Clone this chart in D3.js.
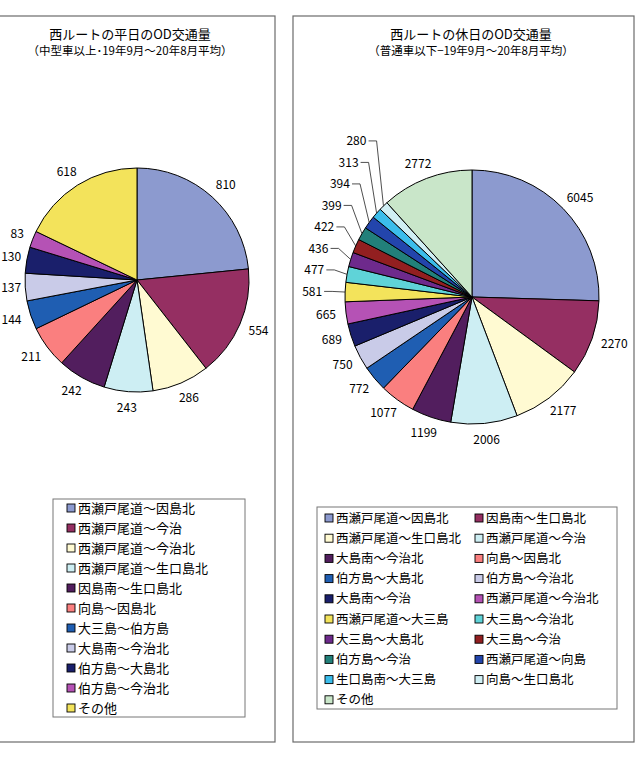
<!DOCTYPE html>
<html>
<head>
<meta charset="utf-8">
<script src="https://cdn.jsdelivr.net/npm/d3@7"></script>
<style>
  body { margin: 0; background: #fff; }
  text { font-family: "Noto Sans CJK JP", "Noto Sans", sans-serif; fill: #000; }
</style>
</head>
<body>
<svg id="chart" width="636" height="764"></svg>
<script>
// 平日（中型車以上）
var weekdayRoutes = ["西瀬戸尾道～因島北", "西瀬戸尾道～今治", "西瀬戸尾道～今治北", "西瀬戸尾道～生口島北",
  "因島南～生口島北", "向島～因島北", "大三島～伯方島", "大島南～今治北", "伯方島～大島北", "伯方島～今治北", "その他"];
var weekdayValues = [810, 554, 286, 243, 242, 211, 144, 137, 130, 83, 618];

// 休日（普通車以下）
var holidayRoutes = ["西瀬戸尾道～因島北", "因島南～生口島北", "西瀬戸尾道～生口島北", "西瀬戸尾道～今治",
  "大島南～今治北", "向島～因島北", "伯方島～大島北", "伯方島～今治北", "大島南～今治", "西瀬戸尾道～今治北",
  "西瀬戸尾道～大三島", "大三島～今治北", "大三島～大島北", "大三島～今治", "伯方島～今治", "西瀬戸尾道～向島",
  "生口島南～大三島", "向島～生口島北", "その他"];
var holidayValues = [6045, 2270, 2177, 2006, 1199, 1077, 772, 750, 689, 665, 581, 477, 436, 422, 399, 394, 313, 280, 2772];

var weekdayTitle = ["西ルートの平日のOD交通量", "（中型車以上･19年9月～20年8月平均）"];
var holidayTitle = ["西ルートの休日のOD交通量", "（普通車以下−19年9月～20年8月平均）"];

// series colours, by slice order
var palette = ["#8C9ACF", "#952F62", "#FFFAD2", "#CDEEF3", "#521E5E", "#FA7F7F", "#1F5EB2", "#C9CBE8",
  "#1A1F6B", "#B552B5", "#F3E35B", "#5FD3D8", "#6E2A8C", "#921F20", "#22807A", "#2345AC",
  "#3BBDEB", "#D0EFF4", "#C9E6C9"];
var holidayPalette = palette.slice();
var weekdayPalette = palette.slice(0, 11);

var svg = d3.select("#chart");

function drawPanel(p) {
  var g = svg.append("g");

  // panel frame
  g.append("rect")
    .attr("x", p.box[0]).attr("y", p.box[1])
    .attr("width", p.box[2]).attr("height", p.box[3])
    .attr("fill", "#fff").attr("stroke", "#6b6b6b").attr("stroke-width", 1.2);

  g.append("text")
    .attr("x", p.titleX).attr("y", 39)
    .attr("text-anchor", "middle")
    .style("font-size", "13px")
    .text(p.title[0]);
  g.append("text")
    .attr("x", p.titleX).attr("y", 55)
    .attr("text-anchor", "middle")
    .style("font-size", "11.5px")
    .text(p.title[1]);

  var pie = d3.pie().sort(null).value(function(d) { return d; });
  var arcs = pie(p.values);
  var arc = d3.arc().innerRadius(0).outerRadius(p.r);

  var gp = g.append("g").attr("transform", "translate(" + p.cx + "," + p.cy + ")");

  gp.selectAll("path.slice")
    .data(arcs)
    .enter().append("path")
    .attr("class", "slice")
    .attr("d", arc)
    .attr("fill", function(d, i) { return p.colors[i]; })
    .attr("stroke", "#000")
    .attr("stroke-width", 1);

  // data labels, Excel style: box just outside the rim
  var lbl = gp.selectAll("text.lbl")
    .data(arcs)
    .enter().append("text")
    .attr("class", "lbl")
    .attr("text-anchor", "middle")
    .attr("dy", "0.35em")
    .style("font-size", "12px")
    .text(function(d) { return d.data; });

  var gap = 10, h = 12, minSpace = 21.5, shift = 13;
  var info = [];
  lbl.each(function(d, i) {
    var w = this.getBBox().width;
    var a = (d.startAngle + d.endAngle) / 2;
    var sx = Math.sin(a), sy = -Math.cos(a);
    var x = (p.r + gap) * sx + sx * w / 2;
    var y = (p.r + gap) * sy + sy * h / 2;
    info.push({ i: i, a: a, w: w, x: x, y: y, nx: x, ny: y, lead: false });
  });

  // push crowded labels apart on each side
  [-1, 1].forEach(function(side) {
    var list = info.filter(function(o) { return o.nx * side > 0; })
      .sort(function(a, b) { return b.ny - a.ny; });
    var chains = [], cur = [];
    list.forEach(function(o, k) {
      if (k > 0) {
        var prev = list[k - 1];
        var hit = (prev.ny - o.ny) < minSpace && Math.abs(prev.nx - o.nx) < (prev.w + o.w) / 2 + 4;
        if (!hit) { chains.push(cur); cur = []; }
      }
      cur.push(o);
    });
    if (cur.length) chains.push(cur);
    chains.forEach(function(c) {
      if (c.length < 2) return;
      c.forEach(function(o, k) {
        if (k > 0) o.y = Math.min(o.ny, c[k - 1].y - minSpace);
        o.x = o.nx + side * shift;
        o.lead = true;
      });
    });
  });

  // keep labels inside the visible page
  info.forEach(function(o) {
    var minX = -p.cx + o.w / 2 + 1;
    if (o.x < minX) o.x = minX;
  });

  lbl.attr("x", function(d, i) { return info[i].x; })
     .attr("y", function(d, i) { return info[i].y; });

  var leaders = info.filter(function(o) { return o.lead; });
  gp.selectAll("polyline.lead")
    .data(leaders)
    .enter().append("polyline")
    .attr("class", "lead")
    .attr("fill", "none")
    .attr("stroke", "#222")
    .attr("stroke-width", 0.8)
    .attr("points", function(o) {
      var s = o.x < 0 ? 1 : -1;
      var x0 = o.x + s * (o.w / 2 + 2);
      var x1 = x0 + s * 8;
      var ex = p.r * Math.sin(o.a), ey = -p.r * Math.cos(o.a);
      return [[x0, o.y], [x1, o.y], [ex, ey]].map(function(pt) { return pt.join(","); }).join(" ");
    });

  // legend
  var L = p.legend;
  g.append("rect")
    .attr("x", L.x).attr("y", L.y)
    .attr("width", L.w).attr("height", L.h)
    .attr("fill", "#fff").attr("stroke", "#777").attr("stroke-width", 1);

  var item = g.selectAll("g.leg")
    .data(p.routes)
    .enter().append("g")
    .attr("class", "leg")
    .attr("transform", function(d, i) {
      var col = i % L.cols, row = Math.floor(i / L.cols);
      return "translate(" + (L.x0 + col * L.colW) + "," + (L.y0 + row * L.rowH) + ")";
    });

  item.append("rect")
    .attr("x", 0).attr("y", -4)
    .attr("width", 8).attr("height", 8)
    .attr("fill", function(d, i) { return p.colors[i]; })
    .attr("stroke", "#000").attr("stroke-width", 0.9);

  item.append("text")
    .attr("x", 11)
    .attr("dy", "0.36em")
    .style("font-size", L.font)
    .text(function(d) { return d; });
}

drawPanel({
  box: [-2, 16, 277, 726],
  titleX: 130,
  title: weekdayTitle,
  values: weekdayValues,
  routes: weekdayRoutes,
  colors: weekdayPalette,
  cx: 137, cy: 280, r: 112,
  legend: { x: 53, y: 499, w: 192, h: 218, x0: 67, y0: 508, cols: 1, colW: 0, rowH: 20, font: "13px" }
});

drawPanel({
  box: [293, 16, 341, 726],
  titleX: 471,
  title: holidayTitle,
  values: holidayValues,
  routes: holidayRoutes,
  colors: holidayPalette,
  cx: 472, cy: 297, r: 127,
  legend: { x: 317, y: 507, w: 300, h: 202, x0: 325, y0: 518, cols: 2, colW: 150, rowH: 20.2, font: "12.5px" }
});
</script>
</body>
</html>
